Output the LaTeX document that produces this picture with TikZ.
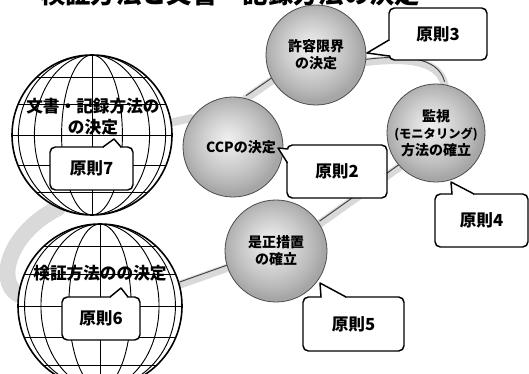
\documentclass[tikz,border=0pt]{standalone}
\usepackage{fontspec}
\newfontfamily\jp{Noto Sans CJK JP}
\usetikzlibrary{calc}
\pgfdeclarelayer{bg}
\pgfsetlayers{bg,main}
% soft grey ball, light centre slightly up-left, darker rim
\pgfdeclareradialshading{sphereshade}{\pgfpoint{-3bp}{4bp}}{%
  color(0bp)=(gray!12); color(7bp)=(gray!25); color(15bp)=(gray!43);
  color(21bp)=(gray!58); color(25bp)=(gray!70); color(50bp)=(gray!70)}

% grid of a globe: parallels, central meridian and meridian ellipses
\newcommand\globegrid[2]{%
  \begin{scope}
    \clip (#1.center) circle (#2);
    \foreach \f in {-0.72,-0.38,0,0.38,0.72}
      \draw[gridline] ($(#1.center)+(-#2,\f*#2)$) -- ++(2*#2,0);
    \draw[gridline] ($(#1.center)+(0,-#2)$) -- ++(0,2*#2);
    \foreach \f in {0.38,0.72,0.92}
      \draw[gridline] (#1.center) ellipse [x radius=\f*#2, y radius=#2];
  \end{scope}}

% speech-bubble pointer: base point, tip, base point
\newcommand\callptr[3]{%
  \fill[white] (#1) -- (#2) -- (#3) -- cycle;
  \draw[white, line width=1.8pt, shorten <=0.7pt, shorten >=0.7pt] (#1) -- (#3);
  \draw[callline] (#1) -- (#2) -- (#3);}

\begin{document}
\begin{tikzpicture}[x=0.75pt, y=-0.75pt,
  sphere/.style={circle, draw=black!70, line width=0.6pt, shading=sphereshade,
    minimum size=75pt, inner sep=0pt, align=center,
    font=\jp\bfseries\fontsize{10.5}{12.75}\selectfont},
  globe/.style={circle, draw=black, line width=1.2pt, fill=white,
    minimum size=#1, inner sep=0pt},
  gridline/.style={draw=black, line width=0.7pt},
  globetext/.style={inner sep=0pt, align=center,
    font=\jp\bfseries\fontsize{12.5}{15.75}\selectfont},
  callbox/.style={draw=black, line width=1.1pt, fill=white, rounded corners=4pt,
    inner sep=0pt, font=\jp\bfseries\fontsize{12.5}{14}\selectfont},
  callline/.style={draw=black, line width=1.1pt, line join=round},
  ring/.style={draw=gray!30, line width=6pt, line cap=round},
  ringedge/.style={draw=black!75, line width=0.7pt}]

\begin{pgfonlayer}{bg}
  \fill[white] (0,0) rectangle (529,374);
\end{pgfonlayer}
\useasboundingbox (0,0) rectangle (529,374);

% heading, cut by the top edge
\begin{scope}
  \clip (0,0) rectangle (529,374);
  \node[anchor=base west, inner sep=0pt,
        font=\jp\bfseries\fontsize{19}{19}\selectfont] (title) at (40,4)
        {検証方法と文書・記録方法の決定};
\end{scope}

% globes
\node[globe=120pt] (g7) at (92,135) {};
\globegrid{g7}{80}
\node[globetext] (g7t) at (93,117) {文書・記録方法の\\の決定};

\node[globe=123pt] (g6) at (100,306) {};
\globegrid{g6}{82}
\node[globetext] (g6t) at (100,273) {検証方法のの決定};

% spheres
\node[sphere] (s3) at (316,55) {許容限界\\の決定};
\node[sphere] (s2) at (233,147) {\hspace*{12pt}CCPの決定};
\node[sphere, minimum size=73.5pt] (s4) at (436,133)
  {監視\\{\fontsize{9.2}{12.75}\selectfont(モニタリング)}\\方法の確立};
\node[sphere, minimum size=76.5pt] (s5) at (276,251) {是正措置\\の確立};

% ring joining the steps, behind everything
\begin{pgfonlayer}{bg}
  \draw[ring] (g7.9) -- (s2.145);
  \draw[ring] (s2.75) -- (s3.210);
  \draw[ring] (s3.-8) .. controls (400,58) and (438,58) .. (s4.80);
  \draw[ring] (s4.223) -- (s5.32);
  \draw[ring] (s5.199) -- (g6.15);
  \draw[ring, line width=12pt] (g6.172) .. controls (-5,280) and (10,232) .. (g7.245);
  \begin{scope}[transform canvas={yshift=2pt}]
    \draw[ringedge] (s2.75) -- (s3.210);
    \draw[ringedge] (s3.-8) .. controls (400,58) and (438,58) .. (s4.80);
    \draw[ringedge] (s4.223) -- (s5.32);
    \draw[ringedge] (s5.199) -- (g6.15);
  \end{scope}
\end{pgfonlayer}

% principle callouts
\node[callbox, minimum width=73.5pt, minimum height=39pt] (c3) at (438,34) {原則3};
\coordinate (c3a) at (389,40); \coordinate (c3t) at (367,53); \coordinate (c3b) at (389,56);
\callptr{c3a}{c3t}{c3b}

\node[callbox, minimum width=75pt, minimum height=39.75pt] (c2) at (337,171.5) {原則2};
\coordinate (c2a) at (287.5,149); \coordinate (c2t) at (278,148); \coordinate (c2b) at (287.5,163);
\callptr{c2a}{c2t}{c2b}

\node[callbox, minimum width=69.75pt, minimum height=39.75pt] (c4) at (481.5,220.5) {原則4};
\coordinate (c4a) at (452,194); \coordinate (c4t) at (451,182); \coordinate (c4b) at (474,194);
\callptr{c4a}{c4t}{c4b}

\node[callbox, minimum width=75.75pt, minimum height=40.5pt] (c5) at (353.5,324) {原則5};
\coordinate (c5a) at (321,297); \coordinate (c5t) at (320,283); \coordinate (c5b) at (346,297);
\callptr{c5a}{c5t}{c5b}

\node[callbox, minimum width=62.25pt, minimum height=32.25pt] (c7) at (91.5,168.5) {原則7};
\coordinate (c7a) at (103,147); \coordinate (c7t) at (114,139); \coordinate (c7b) at (121,147);
\callptr{c7a}{c7t}{c7b}

\node[callbox, minimum width=58.5pt, minimum height=32.25pt] (c6) at (101,318.5) {原則6};
\coordinate (c6a) at (110,297); \coordinate (c6t) at (121,288); \coordinate (c6b) at (128,297);
\callptr{c6a}{c6t}{c6b}
\end{tikzpicture}
\end{document}
